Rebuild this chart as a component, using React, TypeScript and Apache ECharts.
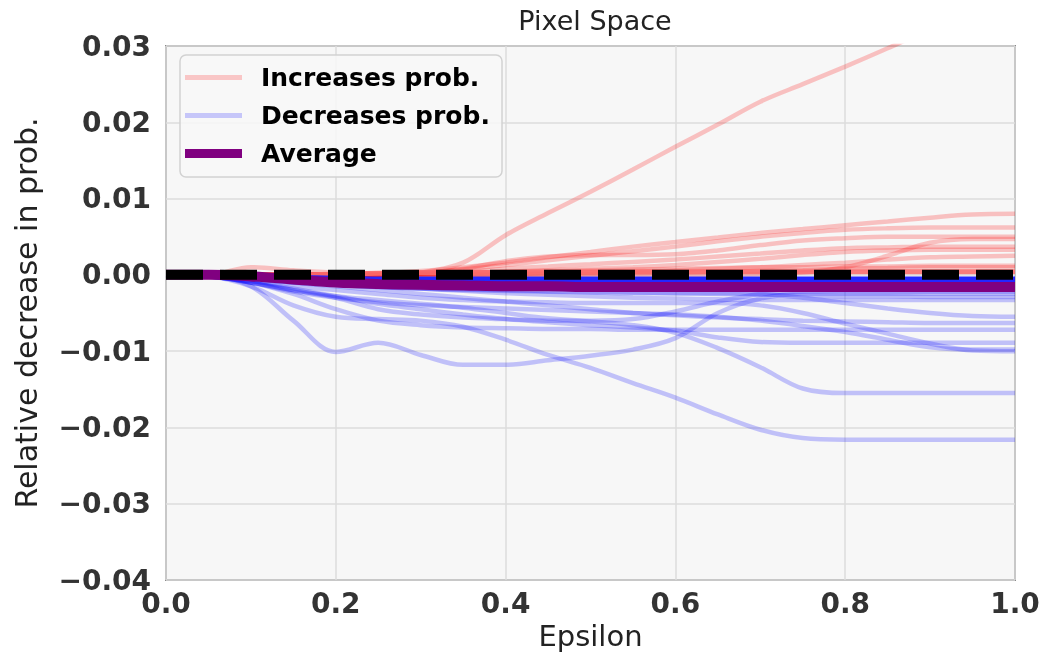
import React, { useEffect, useRef } from "react";
import * as echarts from "echarts";

const eps = [0, 0.05, 0.1, 0.15, 0.2, 0.25, 0.3, 0.35, 0.4, 0.45, 0.5, 0.55, 0.6, 0.65, 0.7, 0.75, 0.8, 0.85, 0.9, 0.95, 1.0];

const xTicks = [0, 0.2, 0.4, 0.6, 0.8, 1.0];
const yTicks = [-0.04, -0.03, -0.02, -0.01, 0, 0.01, 0.02, 0.03];

const red1 = [0, 0, 0, 0, 0, 0, 0.0003, 0.0016, 0.0052, 0.0081, 0.0109, 0.0138, 0.0168, 0.0197, 0.0227, 0.025, 0.0273, 0.0297, 0.0322, 0.0345, 0.0368];
const red2 = [0, 0, 0.001, 0.0006, 0.0003, 0.0002, 0.0002, 0.0003, 0.0004, 0.0005, 0.0006, 0.0007, 0.0008, 0.0009, 0.001, 0.001, 0.0011, 0.0011, 0.0012, 0.0012, 0.0012];
const red3 = [0, 0, 0, 0, 0.0001, 0.0002, 0.0005, 0.001, 0.0016, 0.0023, 0.003, 0.0037, 0.0043, 0.0049, 0.0055, 0.006, 0.0065, 0.007, 0.0075, 0.0079, 0.008];
const red4 = [0, 0, 0, 0, 0, 0.0001, 0.0003, 0.0007, 0.0013, 0.0019, 0.0025, 0.0031, 0.0037, 0.0044, 0.005, 0.0055, 0.0059, 0.0061, 0.0062, 0.0062, 0.0062];
const red5 = [0, 0, 0, 0, 0, 0, 0.0002, 0.0008, 0.0018, 0.0024, 0.0026, 0.0026, 0.0027, 0.0032, 0.0039, 0.0045, 0.0048, 0.005, 0.005, 0.005, 0.005];
const red6 = [0, 0, 0, 0, 0, 0, 0, 0, 0, 0, 0, 0, 0, 0, 0.0001, 0.0003, 0.001, 0.0025, 0.0042, 0.0047, 0.0047];
const red7 = [0, 0, 0, 0, 0, 0, 0.0001, 0.0004, 0.0008, 0.0011, 0.0014, 0.0017, 0.002, 0.0024, 0.0028, 0.0032, 0.0035, 0.0036, 0.0037, 0.0037, 0.0037];
const red8 = [0, 0, 0, 0, 0, 0, 0, 0.0002, 0.0004, 0.0006, 0.0008, 0.001, 0.0013, 0.0017, 0.0021, 0.0026, 0.003, 0.0032, 0.0033, 0.0033, 0.0033];
const red9 = [0, 0, 0, 0, 0, 0, 0, 0, 0.0001, 0.0002, 0.0003, 0.0004, 0.0006, 0.0008, 0.001, 0.0013, 0.0016, 0.002, 0.0023, 0.0024, 0.0025];
const red10 = [0, 0, 0, 0, 0, 0, 0, 0, 0, 0, 0.0001, 0.0002, 0.0003, 0.0004, 0.0005, 0.0006, 0.0008, 0.0009, 0.001, 0.001, 0.001];

const blue1 = [0, -0.0002, -0.0015, -0.006, -0.0101, -0.0089, -0.0105, -0.0118, -0.0118, -0.0112, -0.0106, -0.0098, -0.0083, -0.005, -0.0031, -0.0025, -0.0025, -0.0025, -0.0025, -0.0025, -0.0025];
const blue2 = [0, -0.0002, -0.0015, -0.004, -0.0055, -0.0058, -0.006, -0.0068, -0.0085, -0.0105, -0.0122, -0.0142, -0.0161, -0.0183, -0.0203, -0.0214, -0.0216, -0.0216, -0.0216, -0.0216, -0.0216];
const blue3 = [0, -0.0002, -0.001, -0.002, -0.003, -0.0045, -0.0052, -0.0056, -0.0058, -0.006, -0.0061, -0.0066, -0.0076, -0.0096, -0.0121, -0.0149, -0.0155, -0.0155, -0.0155, -0.0155, -0.0155];
const blue4 = [0, -0.0002, -0.0008, -0.0015, -0.002, -0.0025, -0.003, -0.0033, -0.0035, -0.0036, -0.0037, -0.0037, -0.0037, -0.0037, -0.004, -0.005, -0.0064, -0.0077, -0.009, -0.0099, -0.01];
const blue5 = [0, -0.0002, -0.001, -0.0022, -0.003, -0.0036, -0.004, -0.0042, -0.0044, -0.0046, -0.0048, -0.005, -0.0052, -0.0055, -0.006, -0.0067, -0.0075, -0.0085, -0.0095, -0.0098, -0.0098];
const blue6 = [0, -0.0002, -0.001, -0.0025, -0.0045, -0.006, -0.0066, -0.0069, -0.007, -0.0071, -0.0071, -0.0072, -0.0072, -0.0072, -0.0072, -0.0072, -0.0072, -0.0072, -0.0072, -0.0072, -0.0072];
const blue7 = [0, -0.0002, -0.0008, -0.0018, -0.0028, -0.0038, -0.0045, -0.0052, -0.0058, -0.0062, -0.0066, -0.0069, -0.0073, -0.0082, -0.0088, -0.0089, -0.0089, -0.0089, -0.0089, -0.0089, -0.0089];
const blue8 = [0, -0.0001, -0.0005, -0.001, -0.0015, -0.002, -0.0025, -0.003, -0.0035, -0.004, -0.0045, -0.005, -0.0053, -0.0056, -0.0058, -0.006, -0.0061, -0.0062, -0.0063, -0.0063, -0.0063];
const blue9 = [0, -0.0001, -0.0005, -0.001, -0.0013, -0.0016, -0.0018, -0.002, -0.0021, -0.0022, -0.0023, -0.0024, -0.0024, -0.0024, -0.0025, -0.003, -0.0037, -0.0044, -0.005, -0.0054, -0.0055];
const blue10 = [0, -0.0001, -0.0004, -0.0008, -0.0012, -0.0015, -0.0018, -0.0021, -0.0024, -0.0026, -0.0028, -0.003, -0.0031, -0.0032, -0.0033, -0.0033, -0.0033, -0.0033, -0.0033, -0.0033, -0.0033];
const blue11 = [0, -0.0002, -0.001, -0.002, -0.0028, -0.0033, -0.0038, -0.0043, -0.005, -0.0057, -0.006, -0.0058, -0.0048, -0.0035, -0.0025, -0.0022, -0.0022, -0.0022, -0.0022, -0.0022, -0.0022];
const blue12 = [0, -0.0001, -0.0003, -0.0005, -0.0007, -0.0009, -0.001, -0.0011, -0.0012, -0.0013, -0.0014, -0.0015, -0.0015, -0.0016, -0.0016, -0.0016, -0.0017, -0.0017, -0.0017, -0.0017, -0.0017];
const blue13 = [0, -0.0001, -0.0004, -0.0009, -0.0013, -0.0016, -0.0018, -0.0019, -0.002, -0.0021, -0.0022, -0.0023, -0.0024, -0.0025, -0.0026, -0.0027, -0.0028, -0.0028, -0.0029, -0.0029, -0.0029];

const redMean = [0, 0, 0, 0, 0.0001, 0.0002, 0.0003, 0.0003, 0.0003, 0.0004, 0.0004, 0.0004, 0.0004, 0.0004, 0.0004, 0.0004, 0.0004, 0.0004, 0.0004, 0.0004, 0.0004];
const blueMean = [0, -0.0001, -0.0002, -0.0004, -0.0005, -0.0006, -0.0006, -0.0006, -0.0006, -0.0006, -0.0006, -0.0006, -0.0006, -0.0006, -0.0006, -0.0006, -0.0006, -0.0006, -0.0006, -0.0006, -0.0006];
const average = [0, 0, -0.0002, -0.0006, -0.001, -0.0012, -0.0013, -0.0014, -0.0015, -0.0015, -0.0016, -0.0016, -0.0016, -0.0016, -0.0016, -0.0016, -0.0016, -0.0016, -0.0016, -0.0016, -0.0016];
const zeroLine = [0, 0, 0, 0, 0, 0, 0, 0, 0, 0, 0, 0, 0, 0, 0, 0, 0, 0, 0, 0, 0];

const increases = [red1, red2, red3, red4, red5, red6, red7, red8, red9, red10];
const decreases = [blue1, blue2, blue3, blue4, blue5, blue6, blue7, blue8, blue9, blue10, blue11, blue12, blue13];

const FONT = "DejaVu Sans";
const RED_THIN = "rgba(255,0,0,0.22)";
const BLUE_THIN = "rgba(0,0,255,0.22)";

const pairs = (vals: number[]) => vals.map((v, i) => [eps[i], v]);

function fmtY(v: number) {
  if (Math.abs(v) < 1e-9) return "0.00";
  const s = v.toFixed(2);
  return s.replace("-", "\u2212");
}

export default function App() {
  const ref = useRef<HTMLDivElement>(null);
  useEffect(() => {
    if (!ref.current) return;
    const chart = echarts.init(ref.current, null, { renderer: "svg" });
    const thin = (name: string, color: string, vals: number[]) => ({
      type: "line",
      name,
      data: pairs(vals),
      smooth: 0.35,
      showSymbol: false,
      symbol: "none",
      color,
      lineStyle: { color, width: 4.5 },
      clip: true,
      z: 2,
    });
    const series: any[] = [
      ...increases.map((v) => thin("Increases prob.", RED_THIN, v)),
      ...decreases.map((v) => thin("Decreases prob.", BLUE_THIN, v)),
      {
        type: "line", name: "inc-mean", data: pairs(redMean), smooth: 0.35, symbol: "none",
        lineStyle: { color: "rgba(250,110,110,0.9)", width: 5 }, z: 3,
      },
      {
        type: "line", name: "dec-mean", data: pairs(blueMean), smooth: 0.35, symbol: "none",
        lineStyle: { color: "rgba(25,25,255,0.95)", width: 6 }, z: 3,
      },
      {
        type: "line", name: "Average", data: pairs(average), smooth: 0.35, symbol: "none",
        color: "#800080",
        lineStyle: { color: "#800080", width: 10 }, z: 4,
      },
      {
        type: "line", name: "zero", data: pairs(zeroLine), symbol: "none",
        lineStyle: { color: "#000000", width: 10, type: [37, 17], cap: "butt" }, z: 5,
      },
    ];

    const legendBase = {
      left: 185,
      padding: 0,
      itemWidth: 57,
      selectedMode: false,
      textStyle: { fontFamily: FONT, fontSize: 25, fontWeight: "bold", color: "#000", padding: [0, 0, 0, 14] },
      z: 6,
    };

    chart.setOption({
      animation: false,
      title: {
        text: "Pixel Space",
        left: 590,
        textAlign: "center",
        top: 2,
        textStyle: { fontFamily: FONT, fontSize: 27, fontWeight: "normal", color: "#222" },
      },
      grid: {
        left: 166, right: 30, top: 46, bottom: 90,
        show: true, backgroundColor: "#f7f7f7", borderColor: "#8a8a8a", borderWidth: 2,
      },
      legend: [
        { ...legendBase, top: 65, itemHeight: 5, data: [{ name: "Increases prob.", icon: "rect", itemStyle: { color: "rgba(255,0,0,0.2)" } }] },
        { ...legendBase, top: 103, itemHeight: 5, data: [{ name: "Decreases prob.", icon: "rect", itemStyle: { color: "rgba(0,0,255,0.2)" } }] },
        { ...legendBase, top: 141, itemHeight: 9, data: [{ name: "Average", icon: "rect", itemStyle: { color: "#800080" } }] },
      ],
      graphic: [
        {
          type: "rect",
          z: 5,
          shape: { x: 180, y: 55, width: 322, height: 122, r: 6 },
          style: { fill: "rgba(248,248,248,0.85)", stroke: "#d2d2d2", lineWidth: 1.5 },
        },
      ],
      xAxis: {
        type: "value",
        min: 0, max: 1, interval: 0.2,
        name: "Epsilon", nameLocation: "middle", nameGap: 30,
        nameTextStyle: { fontFamily: FONT, fontSize: 29, color: "#222" },
        axisLine: { show: false },
        axisTick: { show: false },
        splitLine: { show: true, lineStyle: { color: "#dcdcdc", width: 1.5 } },
        axisLabel: {
          margin: 9, fontFamily: FONT, fontSize: 28, fontWeight: "bold", color: "#333",
          formatter: (v: number) => v.toFixed(1),
          customValues: xTicks,
        },
      },
      yAxis: {
        type: "value",
        min: -0.04, max: 0.03, interval: 0.01,
        name: "Relative decrease in prob.", nameLocation: "middle", nameGap: 125,
        nameTextStyle: { fontFamily: FONT, fontSize: 30, color: "#222" },
        axisLine: { show: false },
        axisTick: { show: false },
        splitLine: { show: true, lineStyle: { color: "#dcdcdc", width: 1.5 } },
        axisLabel: {
          margin: 15, fontFamily: FONT, fontSize: 28, fontWeight: "bold", color: "#333",
          formatter: fmtY,
          customValues: yTicks,
        },
      },
      series,
    });
    return () => chart.dispose();
  }, []);
  return <div ref={ref} style={{ position: "fixed", left: 0, top: 0, width: 1045, height: 670 }} />;
}
